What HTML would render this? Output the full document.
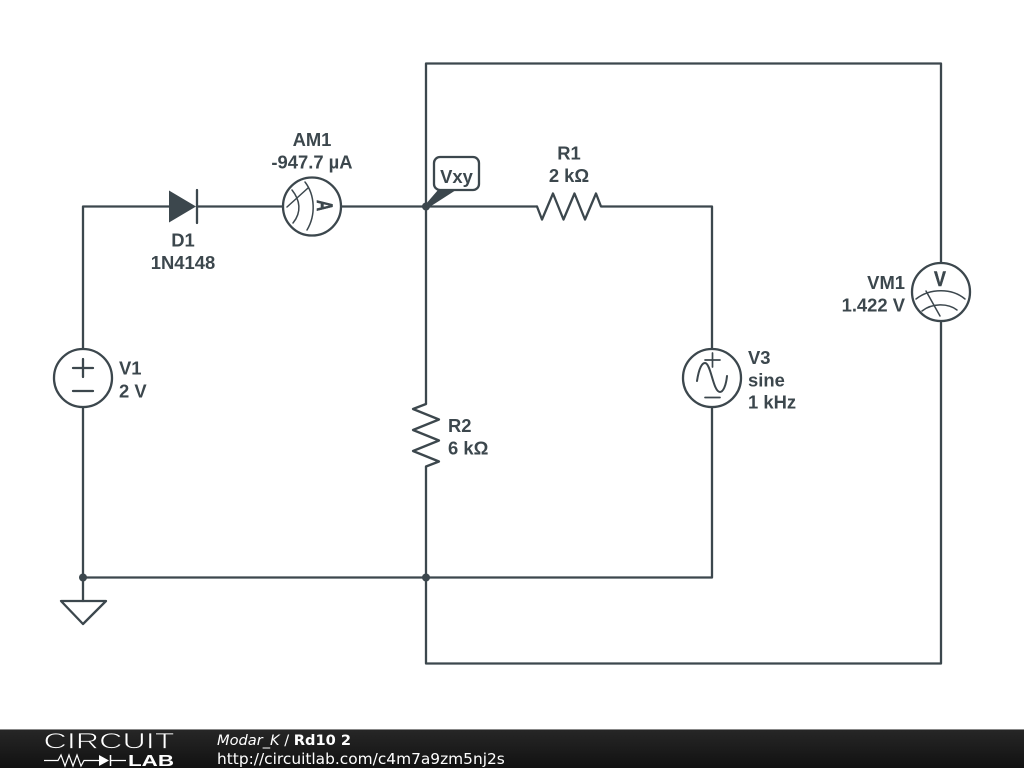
<!DOCTYPE html>
<html><head><meta charset="utf-8"><style>
html,body{margin:0;padding:0;background:#fff;width:1024px;height:768px;overflow:hidden}
svg{display:block;position:absolute;left:0;top:0}
.l{font-family:"Liberation Sans",sans-serif;font-weight:bold;font-size:18.4px;fill:#3c474d}
.f{font-family:"DejaVu Sans",sans-serif;fill:#fff}
</style></head><body>
<svg width="1024" height="768" viewBox="0 0 1024 768">
<defs><linearGradient id="g" x1="0" y1="0" x2="0" y2="1"><stop offset="0" stop-color="#272727"/><stop offset="1" stop-color="#111"/></linearGradient></defs>
<g fill="none" stroke="#3c474d" stroke-width="2.3" stroke-linejoin="round" stroke-linecap="round">
<!-- wires -->
<path d="M83 349V206.500H170M197 206.500H283M341 206.500H537M602 206.500H712V349" stroke-linecap="butt"/>
<path d="M83 407V577.500H712V407" stroke-linecap="butt"/>
<path d="M426 206.500V404M426 467V663.500H941V321M941 263V63.500H426V206.500" stroke-linecap="butt"/>
<path d="M83 577.500V601"/>
<!-- ground -->
<path d="M61 601H106L83 624Z"/>
<!-- R1 -->
<path d="M537 206.500L542 219.500L553 193.500L563.500 219.500L574.500 193.500L585 219.500L596 193.500L601 206.500H602"/>
<!-- R2 -->
<path d="M426 404L413 409L439 419.500L413 430L439 440.500L413 451L439 461.500L426 466.500V467"/>
<!-- sources -->
<circle cx="83" cy="378" r="29"/>
<path d="M73 368H93M83 359V377M73 391H93"/>
<circle cx="712" cy="378" r="29"/>
<path d="M705 360H720M712.500 353V367M705 397.500H720" stroke-width="1.700"/>
<path d="M697 381C699 368 702 363 705 363C711 363 713 392 720 392C723 392 726 386 727 376" stroke-width="2"/>
<!-- AM1 -->
<circle cx="312" cy="206.500" r="29"/>
<path d="M287 207L308 188M292 190C300 200 302 212 293 223M305 182C315 195 316 215 307 230" stroke-width="1.500"/>
<!-- VM1 -->
<circle cx="941" cy="292" r="29"/>
<path d="M916 299C930 288 952 288 965 299M922 311C932 303 948 303 957 310M926 291L940 316" stroke-width="1.500"/>
<!-- diode cathode -->
<path d="M197 190V223"/>
<!-- probe box -->
<rect x="434" y="157" width="45" height="33" rx="6" ry="6" fill="#fff"/>
</g>
<!-- filled items -->
<g fill="#3c474d">
<path d="M169 190.500L196 206.500L169 222.500Z"/>
<circle cx="426" cy="206.500" r="4"/>
<circle cx="83" cy="577.500" r="4"/>
<circle cx="426" cy="577.500" r="4"/>
<path d="M425 205L438 190H456L428 208Z"/>
</g>
<!-- labels -->
<g class="l" transform="translate(0 .5)">
<text x="312" y="145.500" text-anchor="middle">AM1</text>
<text x="312" y="168" text-anchor="middle">-947.7 µA</text>
<text x="456.500" y="182.500" text-anchor="middle">Vxy</text>
<text x="569" y="159" text-anchor="middle">R1</text>
<text x="569" y="181.500" text-anchor="middle">2 kΩ</text>
<text x="183" y="246" text-anchor="middle">D1</text>
<text x="183" y="268.500" text-anchor="middle">1N4148</text>
<text x="119" y="374">V1</text>
<text x="119" y="397">2 V</text>
<text x="448" y="431.500">R2</text>
<text x="448" y="454">6 kΩ</text>
<text x="748" y="363.500">V3</text>
<text x="748" y="386">sine</text>
<text x="748" y="408">1 kHz</text>
<text x="905" y="288.500" text-anchor="end">VM1</text>
<text x="905" y="311" text-anchor="end">1.422 V</text>
<text text-anchor="middle" transform="translate(940 285.500) scale(.85 1)" style="font-size:21px;stroke:#3c474d;stroke-width:.5px">V</text>
<text text-anchor="middle" transform="translate(325 205) rotate(90) scale(.7 1)" y="8" style="font-size:22px;stroke:#3c474d;stroke-width:.6px">A</text>
</g>
<!-- footer -->
<rect x="0" y="729" width="1024" height="39" fill="url(#g)"/>
<rect x="0" y="729" width="1024" height="1" fill="#888"/>
<g class="f">
<text x="217" y="745" font-size="14.600" font-style="italic">Modar_K <tspan font-style="normal">/</tspan> <tspan font-style="normal" font-weight="bold">Rd10 2</tspan></text>
<text x="217" y="764" font-size="15.400">http://circuitlab.com/c4m7a9zm5nj2s</text>
</g>
<!-- logo -->
<text x="43.500" y="748.500" font-family="'Liberation Sans',sans-serif" font-size="22.500" fill="#fff" stroke="#1f1f1f" stroke-width=".7" textLength="131" lengthAdjust="spacingAndGlyphs">CIRCUIT</text>
<text x="128" y="766" font-family="'Liberation Sans',sans-serif" font-weight="bold" font-size="15.500" fill="#fff" textLength="46" lengthAdjust="spacingAndGlyphs">LAB</text>
<path d="M44 760.500H58L61 755L65 766L69 755L73 766L77 755L81 766L84 760.500H99M111 760.500H126" fill="none" stroke="#fff" stroke-width="1.200"/>
<path d="M99 755L109 760.500L99 766Z" fill="#fff"/>
<path d="M110.500 755V766" stroke="#fff" stroke-width="1.500"/>
</svg>
</body></html>
